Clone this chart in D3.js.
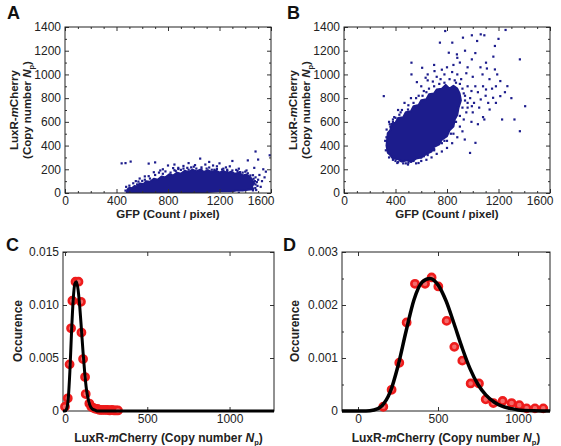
<!DOCTYPE html>
<html><head><meta charset="utf-8">
<script src="https://cdn.jsdelivr.net/npm/d3@7/dist/d3.min.js"></script>
<style>body{margin:0;background:#fff}svg{display:block}</style>
</head><body><svg id="c" width="561" height="446"></svg>
<script>
// ---------------- DATA ----------------
const gfpTicks = [0, 400, 800, 1200, 1600];
const copyTicks = [0, 200, 400, 600, 800, 1000, 1200, 1400];
const histXTicks = [0, 500, 1000];
const occTicksC = [0, 0.005, 0.010, 0.015];
const occLabelsC = ["0", "0.005", "0.010", "0.015"];
const occTicksD = [0, 0.001, 0.002, 0.003];
const occLabelsD = ["0", "0.001", "0.002", "0.003"];

// Panel A: outline of the dense (saturated) cloud of cells, and individual cells outside it
const coreA = [[480,5],[485,30],[500,45],[520,40],[540,60],[560,55],[580,80],[610,75],[630,100],[660,95],[690,120],[720,112],[750,140],[780,132],[810,158],[840,148],[870,172],[900,162],[930,188],[960,176],[990,198],[1020,182],[1050,196],[1080,178],[1110,192],[1140,176],[1170,190],[1200,172],[1230,186],[1260,168],[1290,180],[1320,162],[1350,170],[1380,148],[1410,156],[1440,132],[1455,110],[1470,82],[1452,58],[1462,32],[1420,28],[1380,20],[1340,24],[1300,15],[1200,14],[1100,8],[1000,6],[900,4],[700,3],[600,4],[520,2]];
const cellsA = [[440,250],[470,252],[510,265],[650,248],[700,258],[760,200],[800,232],[850,240],[880,212],[920,228],[960,252],[1000,222],[1050,290],[1090,240],[1120,262],[1150,232],[1200,250],[1250,216],[1300,270],[1350,205],[1420,275],[1480,350],[1500,282],[1540,200],[1560,180],[1590,318],[1470,212],[1510,152],[1530,100],[1480,72],[1520,52],[1460,22],[1350,2],[1500,112],[1550,132],
[550,100],[580,122],[620,112],[650,142],[700,152],[730,172],[780,182],[820,172],[850,192],[880,202],[920,206],[950,212],[980,216],[1020,206],[1060,216],[1100,206],[1140,196],[1180,202],[1220,198],[1260,196],[1300,190],[1340,186],[1380,172],[1420,166],[1460,150],[1480,132],[1490,92],[1478,42],[500,62],[470,20],[475,52],[530,82],[560,72],[600,102],[660,122],[760,162],[860,186],[960,196],[1060,200],[1160,196],[1260,186],[1360,176],[1440,148],[900,195],[1010,235],[1120,215],[1230,205],[1330,195],[1400,180],[740,190],[690,175],[620,140],[570,96],[1475,100],[1410,190],[1280,225],[840,210],[1180,225],[1495,60],[1485,25],[1465,120]];

// Panel B
const coreB = [[330,400],[340,340],[360,320],[380,290],[420,285],[450,265],[490,275],[520,262],[560,290],[600,300],[640,330],[680,350],[700,390],[740,410],[760,450],[800,480],[820,530],[850,560],[860,620],[880,660],[890,720],[908,780],[898,840],[880,880],[850,905],[820,880],[790,912],[760,880],[720,872],[700,840],[660,832],[640,790],[600,782],[580,742],[540,732],[520,690],[480,682],[460,640],[420,632],[400,592],[370,582],[360,530],[340,505],[335,450]];
const cellsB = [[309,817],[400,634],[524,1099],[607,1056],[634,972],[703,1028],[745,1268],[786,1366],[841,1268],[814,1183],[877,1169],[924,1310],[993,1330],[1034,1282],[1062,1338],[1090,1330],[1172,1240],[1255,1375],[1366,1127],[993,1127],[1103,1099],[1172,1042],[1076,1000],[1214,944],[1269,901],[1103,873],[1158,803],[1062,789],[1214,817],[993,732],[1228,620],[1407,732],[1324,620],[1366,521],[1131,704],[1090,620],[1021,423],[979,338],[938,451],[345,380],[331,535],[386,310],[497,240],[414,253],[579,253],[524,1000],[566,935],[497,704],[450,700],[430,660],[380,600],[360,560],[420,260],[460,250],[520,265],[600,300],[650,320],[700,360],[760,420],[800,440],[850,500],[900,560],[930,620],[950,680],[960,760],[940,820],[920,880],[900,920],[860,950],[820,960],[780,930],[740,920],[700,900],[660,880],[620,860],[580,820],[560,800],[540,760],[600,900],[650,950],[720,980],[780,1000],[840,1020],[880,1000],[910,960],[950,1010],[1000,980],[1020,900],[990,860],[1040,850],[980,800],[1010,760],[960,720],[1000,680],[1050,720],[1080,900],[1130,960],[1150,880],[1190,1000],[1110,1050],[1060,1060],[960,1060],[900,1100],[850,1080],[800,1060],[880,1140],[940,1200],[1020,1180],[700,1080],[650,1000],[760,1040],[1250,850],[1300,800],[1180,760],[1120,760],[1080,640],[1040,580],[990,600],[920,520],[880,470],[840,420],[800,380],[760,350],[720,330],[680,300],[640,280],[600,270],[560,250],[500,255],[440,270],[380,280],[330,470],[350,600],[390,640],[420,700],[470,760],[520,800],[880,720],[1100,820],[1180,900],[960,900],[1200,1300],[1160,1150],[920,720],[930,840],[870,930],[750,960],[690,940],[640,850],[610,820],[500,740],[440,680],[380,620],[355,580],[320,440],[325,360],[350,300],[400,270],[480,250],[540,270],[620,310],[700,370],[780,440],[830,500],[870,600],[900,650],[940,780]];

// Panel C: histogram points and fitted curve
const histCx = [0,17,28,37,45,64,82,97,100,110,122,126,148,160,172,185,198,210,222,235,248,260,272,285,298,310,322];
const histCy = [0.0004,0.0012,0.0044,0.0078,0.0104,0.0122,0.0122,0.0103,0.0074,0.0049,0.0032,0.0016,0.0007,0.0004,0.0003,0.0002,0.0002,0.0001,0.0001,0.0001,0.0001,0.0001,0.00005,0.0001,0.00005,0.00005,0.00005];
const fitCx = [-12,0,10,20,30,40,50,60,70,80,90,100,110,120,130,140,150,165,180,200,250,1270];
const fitCy = [0,0,0.0002,0.0012,0.0038,0.0075,0.0105,0.0120,0.0122,0.0114,0.0098,0.0077,0.0055,0.0036,0.0021,0.0012,0.0006,0.0002,0.0001,0,0,0];

// Panel D
const histDx = [158,210,258,304,356,419,460,502,554,602,652,704,756,798,846,904,960,1008,1054,1106,1158];
const histDy = [0.00008,0.0004,0.00091,0.00167,0.0024,0.0024,0.00252,0.00235,0.0017,0.00121,0.00095,0.00052,0.00052,0.00022,0.00015,0.00019,0.00015,0.00011,0.00005,0.00005,0.00005];
const fitDx = [-100,50,100,150,200,250,300,350,400,450,500,550,600,650,700,750,800,850,900,950,1000,1100,1200];
const fitDy = [0,0,0.00002,0.0001,0.00035,0.00085,0.0015,0.0021,0.00243,0.0025,0.00238,0.00208,0.00165,0.0012,0.0008,0.0005,0.0003,0.00017,0.00009,0.00005,0.00002,0.000005,0];

// ---------------- DRAW ----------------
const svg = d3.select("#c");
const FONT = "'Liberation Sans', Arial, Helvetica, sans-serif";
const navy = "#1c1c8c";
const red = "#ee1c1c";

function frame(g, x, y, opts) {
  const [x0, x1] = x.range(), [y0, y1] = y.range();
  const tl = 4;
  const bottom = g.append("g").attr("transform", `translate(0,${y0})`)
    .call(d3.axisBottom(x).tickValues(opts.xt).tickFormat(opts.xf || d3.format("d")).tickSize(-tl).tickPadding(3));
  if (opts.lastEnd) {
    bottom.selectAll(".tick").filter((d, i, n) => i === n.length - 1).select("text")
      .attr("text-anchor", "end").attr("x", x1 - x(opts.xt[opts.xt.length - 1]) + 3);
  }
  g.append("g").attr("transform", `translate(${x0},0)`)
    .call(d3.axisLeft(y).tickValues(opts.yt).tickFormat((d, i) => opts.yl ? opts.yl[i] : d).tickSize(-tl).tickPadding(4));
  g.append("g").attr("transform", `translate(0,${y1})`)
    .call(d3.axisTop(x).tickValues(opts.xt).tickFormat("").tickSize(-tl));
  g.append("g").attr("transform", `translate(${x1},0)`)
    .call(d3.axisRight(y).tickValues(opts.yt).tickFormat("").tickSize(-tl));
  if (opts.xm) {
    g.append("g").attr("transform", `translate(0,${y0})`).call(d3.axisBottom(x).tickValues(opts.xm).tickFormat("").tickSize(-2));
    g.append("g").attr("transform", `translate(0,${y1})`).call(d3.axisTop(x).tickValues(opts.xm).tickFormat("").tickSize(-2));
  }
  if (opts.ym) {
    g.append("g").attr("transform", `translate(${x0},0)`).call(d3.axisLeft(y).tickValues(opts.ym).tickFormat("").tickSize(-2));
    g.append("g").attr("transform", `translate(${x1},0)`).call(d3.axisRight(y).tickValues(opts.ym).tickFormat("").tickSize(-2));
  }
  g.selectAll(".domain").remove();
  g.selectAll(".tick line").attr("stroke", "#333");
  g.selectAll(".tick text").attr("font-family", FONT).attr("font-size", 12).attr("fill", "#222");
  g.append("rect").attr("x", x0).attr("y", y1).attr("width", x1 - x0).attr("height", y0 - y1)
    .attr("fill", "none").attr("stroke", "#222").attr("stroke-width", 1);
}

function copyLabel(t) {
  t.append("tspan").text("(Copy number ");
  t.append("tspan").attr("font-style", "italic").text("N");
  t.append("tspan").attr("font-size", 7.5).attr("dy", 3).text("p");
  t.append("tspan").attr("dy", -3).text(")");
}
function luxr(t) {
  t.append("tspan").text("LuxR-");
  t.append("tspan").attr("font-style", "italic").text("m");
  t.append("tspan").text("Cherry");
}

function scatterPanel(px0, core, cells, letter, lx) {
  const x = d3.scaleLinear().domain([0, 1600]).range([px0, px0 + 206]);
  const y = d3.scaleLinear().domain([0, 1400]).range([193, 27]);
  const g = svg.append("g");
  const xm = d3.range(0, 1601, 100).filter(v => v % 400);
  const ym = d3.range(100, 1400, 200);
  const clip = "clip" + letter;
  g.append("clipPath").attr("id", clip).append("rect").attr("x", px0).attr("y", 27).attr("width", 206).attr("height", 166);
  const inner = g.append("g").attr("clip-path", `url(#${clip})`);
  inner.append("path").datum(core)
    .attr("d", d3.line().x(d => x(d[0])).y(d => y(d[1])).curve(d3.curveLinearClosed))
    .attr("fill", navy).attr("stroke", navy).attr("stroke-width", 2).attr("stroke-linejoin", "round");
  inner.selectAll("rect.pt").data(cells).join("rect").attr("class", "pt")
    .attr("x", d => x(d[0]) - 1.1).attr("y", d => y(d[1]) - 1.1)
    .attr("width", 2.2).attr("height", 2.2).attr("fill", navy);
  frame(g, x, y, { xt: gfpTicks, yt: copyTicks, xm, ym, lastEnd: true });
  const cx = (px0 + px0 + 206) / 2;
  g.append("text").attr("x", cx).attr("y", 218).attr("text-anchor", "middle")
    .attr("font-family", FONT).attr("font-weight", "bold").attr("font-size", 11.5).attr("fill", "#222")
    .text("GFP (Count / pixel)");
  const t1 = g.append("text").attr("transform", `translate(${px0 - 47},110) rotate(-90)`).attr("text-anchor", "middle")
    .attr("font-family", FONT).attr("font-weight", "bold").attr("font-size", 11.5).attr("fill", "#222");
  luxr(t1);
  const t2 = g.append("text").attr("transform", `translate(${px0 - 34},110) rotate(-90)`).attr("text-anchor", "middle")
    .attr("font-family", FONT).attr("font-weight", "bold").attr("font-size", 11.5).attr("fill", "#222");
  copyLabel(t2);
  svg.append("text").attr("x", lx).attr("y", 19).attr("font-family", FONT).attr("font-weight", "bold")
    .attr("font-size", 18).attr("fill", "#111").text(letter);
}

scatterPanel(65, coreA, cellsA, "A", 7);
scatterPanel(344, coreB, cellsB, "B", 287);

function histPanel(px0, px1, xdom, ydom, yt, yl, ym, hx, hy, fx, fy, lw, letter, lx, ylx) {
  const x = d3.scaleLinear().domain(xdom).range([px0, px1]);
  const y = d3.scaleLinear().domain(ydom).range([411, 252]);
  const g = svg.append("g");
  frame(g, x, y, { xt: histXTicks, yt, yl, ym, xf: d3.format("d") });
  const clip = "clip" + letter;
  g.append("clipPath").attr("id", clip).append("rect").attr("x", px0).attr("y", 240).attr("width", px1 - px0).attr("height", 175);
  const pts = hx.map((v, i) => [v, hy[i]]);
  g.append("g").selectAll("circle").data(pts).join("circle")
    .attr("cx", d => x(d[0])).attr("cy", d => y(d[1])).attr("r", 3.6)
    .attr("fill", "#f46a6a").attr("stroke", red).attr("stroke-width", 2.6);
  const curve = fx.map((v, i) => [v, fy[i]]);
  g.append("path").datum(curve).attr("clip-path", `url(#${clip})`)
    .attr("d", d3.line().x(d => x(d[0])).y(d => y(d[1])).curve(d3.curveMonotoneX))
    .attr("fill", "none").attr("stroke", "#000").attr("stroke-width", lw).attr("stroke-linejoin", "round");
  const xl = g.append("text").attr("x", (px0 + px1) / 2).attr("y", 442).attr("text-anchor", "middle")
    .attr("font-family", FONT).attr("font-weight", "bold").attr("font-size", 12).attr("fill", "#222");
  luxr(xl); xl.append("tspan").text(" "); copyLabel(xl);
  g.append("text").attr("transform", `translate(${ylx},331) rotate(-90)`).attr("text-anchor", "middle")
    .attr("font-family", FONT).attr("font-weight", "bold").attr("font-size", 12).attr("fill", "#222").text("Occurence");
  svg.append("text").attr("x", lx).attr("y", 251).attr("font-family", FONT).attr("font-weight", "bold")
    .attr("font-size", 18).attr("fill", "#111").text(letter);
}

histPanel(63, 274, [-12, 1270], [0, 0.015], occTicksC, occLabelsC, null, histCx, histCy, fitCx, fitCy, 3, "C", 6, 22);
histPanel(342, 550, [-100, 1200], [0, 0.003], occTicksD, occLabelsD, [0.0005, 0.0015, 0.0025], histDx, histDy, fitDx, fitDy, 3.5, "D", 283, 299);
</script></body></html>
